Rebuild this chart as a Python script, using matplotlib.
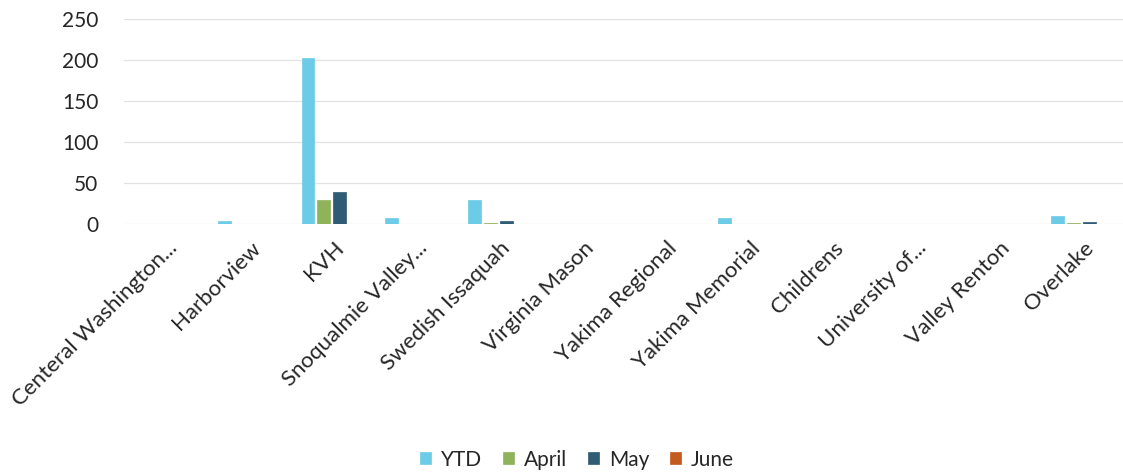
import matplotlib
matplotlib.use("Agg")
import matplotlib.pyplot as plt
import matplotlib.transforms as mtransforms
import numpy as np

categories = ["Centeral Washington...", "Harborview", "KVH", "Snoqualmie Valley...",
              "Swedish Issaquah", "Virginia Mason", "Yakima Regional", "Yakima Memorial",
              "Childrens", "University of...", "Valley Renton", "Overlake"]
ytd = [0, 4, 202, 8, 29, 0, 0, 7, 0, 0, 0, 10]
april = [0, 0, 30, 0, 1, 0, 0, 0, 0, 0, 0, 1]
may = [0, 0, 39, 0, 4, 0, 0, 0, 0, 0, 0, 3]
june = [0, 0, 0, 0, 0, 0, 0, 0, 0, 0, 0, 0]
series_names = ["YTD", "April", "May", "June"]
colors = ["#6ccbe6", "#8fb35a", "#2f5b75", "#c55a1e"]
yticks = [0, 50, 100, 150, 200, 250]

plt.rcParams['font.family'] = ['Lato', 'DejaVu Sans']

fig = plt.figure(figsize=(11.23, 4.76), dpi=100)
ax = fig.add_axes([0.110, 0.529, 0.890, 0.431])

x = np.arange(len(categories))
spacing = 0.19
width = 0.155
for i, (vals, name, c) in enumerate(zip([ytd, april, may, june], series_names, colors)):
    ax.bar(x + (i - 1.5) * spacing, vals, width=width, color=c, label=name,
           edgecolor=c, linewidth=0.5, zorder=3)

ax.set_xlim(-0.5, len(categories) - 0.5)
ax.set_ylim(0, 250)
ax.set_yticks(yticks)
ax.set_yticklabels([str(t) for t in yticks], fontsize=15, color="#262626")
ax.yaxis.grid(True, color="#e2e2e2", linewidth=0.9, zorder=0)
ax.set_axisbelow(True)
for s in ax.spines.values():
    s.set_visible(False)
ax.tick_params(axis='both', length=0)
ax.tick_params(axis='y', pad=18)
ax.set_xticks(x)
ax.set_xticklabels(categories, rotation=45, ha='right', va='baseline',
                   rotation_mode='anchor', fontsize=16, color="#262626")
ax.tick_params(axis='x', pad=18)
offset = mtransforms.ScaledTranslation(0.13, 0, fig.dpi_scale_trans)
for lab in ax.get_xticklabels():
    lab.set_transform(lab.get_transform() + offset)

leg = fig.legend(loc='center', bbox_to_anchor=(0.514, 0.034), ncol=4,
                 frameon=False, fontsize=15, handlelength=0.5, handleheight=0.5,
                 handletextpad=0.5, columnspacing=1.0)
for t in leg.get_texts():
    t.set_color("#262626")

fig.savefig("out.png", dpi=100)
